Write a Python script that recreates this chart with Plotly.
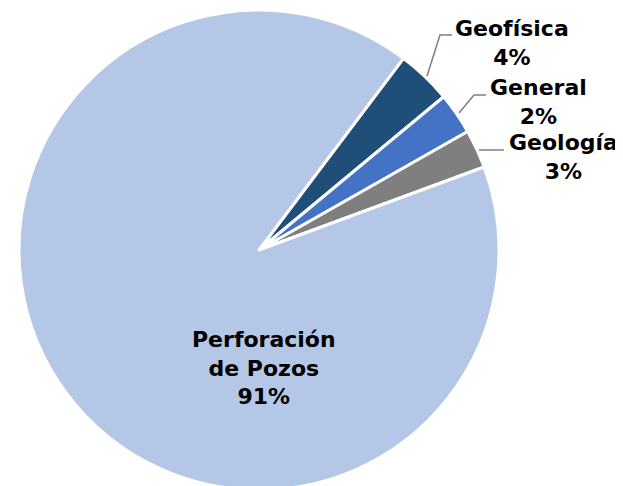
import plotly.graph_objects as go

W, H = 623, 486
OFF = 8  # page body margin

# data
labels = ["Geofísica", "General", "Geología", "Perforación<br>de Pozos"]
values = [3.7, 2.8, 2.6, 90.9]
pct_text = ["4%", "2%", "3%", "91%"]
colors = ["#1f4e79", "#4472c4", "#7f7f7f", "#b4c7e7"]

# label centres and leader lines in screen pixels
label_pos = [(512, 43), (538, 102), (563, 157), (264, 368)]
leaders = [
    [(427, 76), (440, 35), (452, 35)],
    [(459, 113), (474, 95), (486, 95)],
    [(479, 150), (504, 150)],
    None,
]


def px(x):
    return (x - OFF) / W


def py(y):
    return 1 - (y - OFF) / H


fig = go.Figure()
fig.add_trace(go.Pie(
    labels=labels,
    values=values,
    sort=False,
    direction="clockwise",
    rotation=37,
    textinfo="none",
    hoverinfo="label+percent",
    marker=dict(colors=colors, line=dict(color="white", width=3)),
    domain=dict(x=[px(19), px(499)], y=[py(490), py(10)]),
    showlegend=False,
))

for lab, pct, (x, y), pts in zip(labels, pct_text, label_pos, leaders):
    fig.add_annotation(
        x=px(x), y=py(y), xref="paper", yref="paper",
        xanchor="center", yanchor="middle",
        text="<b>%s<br>%s</b>" % (lab, pct),
        showarrow=False, align="center",
        font=dict(family="DejaVu Sans", size=22, color="black"),
    )
    if pts:
        path = "M " + " L ".join("%f,%f" % (px(a), py(b)) for a, b in pts)
        fig.add_shape(type="path", path=path, xref="paper", yref="paper",
                      line=dict(color="#7f7f7f", width=1.5))

fig.update_layout(
    width=W, height=H,
    margin=dict(l=0, r=0, t=0, b=0),
    paper_bgcolor="white",
    plot_bgcolor="white",
)

fig.write_html("out.html")
